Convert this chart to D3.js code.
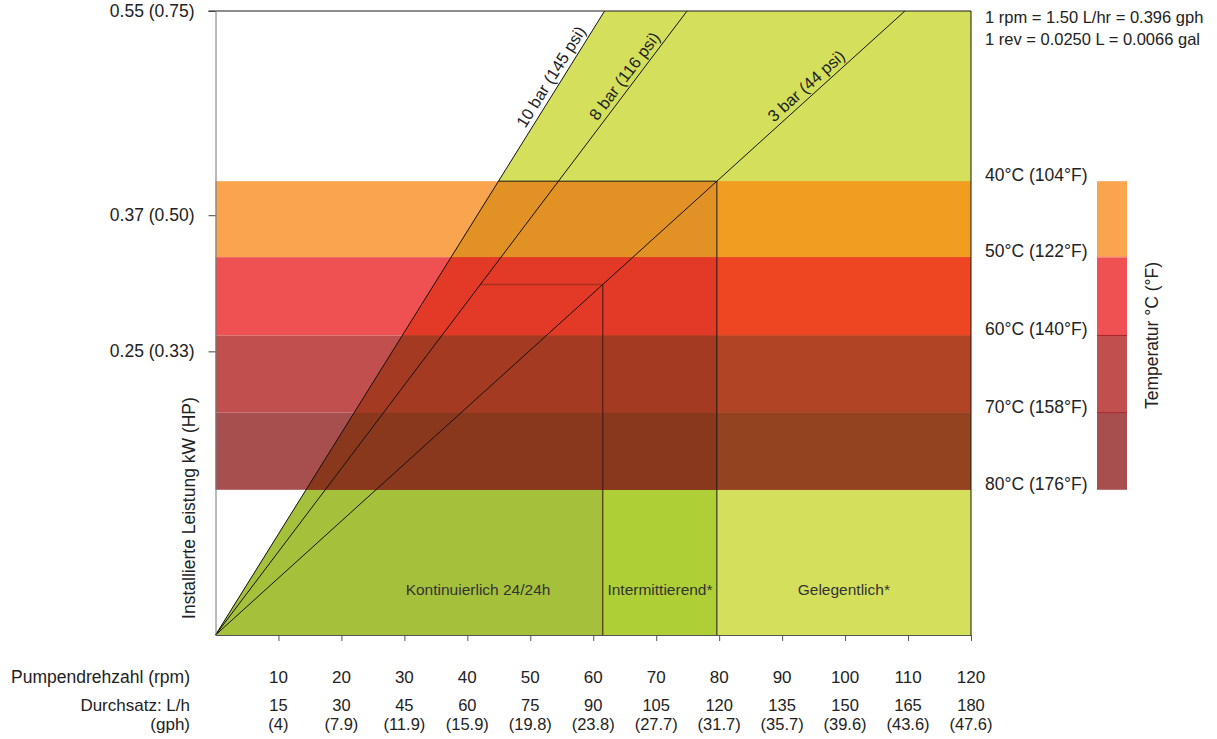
<!DOCTYPE html>
<html><head><meta charset="utf-8">
<script src="https://cdn.jsdelivr.net/npm/d3@7"></script>
<style>
body{margin:0;background:#fff}
svg{display:block}
text{font-family:"Liberation Sans",Arial,Helvetica,sans-serif;fill:#222}
</style>
</head><body>
<svg id="chart" width="1217" height="739"></svg>
<script>
// ---------- DATA ----------
const rpmTicks = [10,20,30,40,50,60,70,80,90,100,110,120];
const flowLph = ["15","30","45","60","75","90","105","120","135","150","165","180"];
const flowGph = ["(4)","(7.9)","(11.9)","(15.9)","(19.8)","(23.8)","(27.7)","(31.7)","(35.7)","(39.6)","(43.6)","(47.6)"];
const powerTicks = [0.25,0.37,0.55];
const powerTickLabels = ["0.25 (0.33)","0.37 (0.50)","0.55 (0.75)"];
const tempLabels = ["40°C (104°F)","50°C (122°F)","60°C (140°F)","70°C (158°F)","80°C (176°F)"];
const tempBoundaryPower = [0.400,0.333,0.264,0.196,0.128];   // kW level of each temperature boundary
const pressureLabels = ["10 bar (145 psi)","8 bar (116 psi)","3 bar (44 psi)"];
const pressureRpmAtMaxPower = [61.8,74.9,109.5];             // rpm where each pressure line reaches 0.55 kW
const pressureLabelPower = [0.487,0.487,0.477];
const dutyLabels = ["Kontinuierlich 24/24h","Intermittierend*","Gelegentlich*"];
const dutyLabelRpm = [41.7,70.6,99.8];
const dutyLimitPower = [0.309,0.400];                         // continuous, intermittent power limits
const notes = ["1 rpm = 1.50 L/hr = 0.396 gph","1 rev = 0.0250 L = 0.0066 gal"];

// ---------- STYLE ----------
const bandPlain = ['#f9a44f','#ef5052','#c14f4e','#a64f4e'];
const bandLight = ['#f19e20','#ee4623','#b04425','#944320'];
const bandDark  = ['#e29224','#e23a26','#a43a22','#8a381d'];
const greenLight = '#d4e05c', greenInter = '#aecf35', greenCont = '#a5c13b';

const svg = d3.select('#chart');
const x = d3.scaleLinear().domain([0,120]).range([215.5,971]);
const y = d3.scaleLinear().domain([0,0.55]).range([635,11]);
const maxP = 0.55;
const rpmOn = (i,p) => pressureRpmAtMaxPower[i]*p/maxP;   // rpm on pressure line i at power p
const line = d3.line().x(d=>x(d[0])).y(d=>y(d[1]));

const contRight = rpmOn(2, dutyLimitPower[0]);
const interRight = rpmOn(2, dutyLimitPower[1]);

const lightPoly = [[0,0],[pressureRpmAtMaxPower[0],maxP],[120,maxP],[120,0]];
const interPoly = [[0,0],[rpmOn(0,dutyLimitPower[1]),dutyLimitPower[1]],[interRight,dutyLimitPower[1]],[interRight,0]];
const contPoly  = [[0,0],[rpmOn(0,dutyLimitPower[0]),dutyLimitPower[0]],[contRight,dutyLimitPower[0]],[contRight,0]];

const defs = svg.append('defs');
defs.append('clipPath').attr('id','clipLight').append('path').attr('d', line(lightPoly)+'Z');
defs.append('clipPath').attr('id','clipDark').append('path').attr('d', line(interPoly)+'Z');

// green base regions
svg.append('path').attr('d', line(lightPoly)+'Z').attr('fill', greenLight);
svg.append('path').attr('d', line(interPoly)+'Z').attr('fill', greenInter);
svg.append('path').attr('d', line(contPoly)+'Z').attr('fill', greenCont);

// temperature bands
const bands = d3.range(4).map(i => ({top: tempBoundaryPower[i], bot: tempBoundaryPower[i+1], i}));
function drawBands(colors, clip){
  const g = svg.append('g');
  if (clip) g.attr('clip-path', `url(#${clip})`);
  g.selectAll('rect').data(bands).join('rect')
    .attr('x', x(0)).attr('width', x(120)-x(0))
    .attr('y', d=>y(d.top)).attr('height', d=>y(d.bot)-y(d.top))
    .attr('fill', d=>colors[d.i]);
}
drawBands(bandPlain, null);
drawBands(bandLight, 'clipLight');
drawBands(bandDark, 'clipDark');

// duty boxes
svg.append('path')
  .attr('d', line([[rpmOn(1,dutyLimitPower[0]),dutyLimitPower[0]],[contRight,dutyLimitPower[0]]]))
  .attr('stroke','#a8321f').attr('stroke-width',1.5).attr('fill','none');
svg.append('path')
  .attr('d', line([[contRight,dutyLimitPower[0]],[contRight,0]]))
  .attr('stroke','#3a1a10').attr('stroke-width',1).attr('fill','none');
svg.append('path')
  .attr('d', line([[rpmOn(0,dutyLimitPower[1]),dutyLimitPower[1]],[interRight,dutyLimitPower[1]],[interRight,0]]))
  .attr('stroke','#1a1a1a').attr('stroke-width',1).attr('fill','none');

// pressure lines
svg.selectAll('.pline').data(pressureRpmAtMaxPower).join('path').attr('class','pline')
  .attr('d', d=>line([[0,0],[d,maxP]]))
  .attr('stroke','#111').attr('stroke-width',1).attr('fill','none');

// pressure labels
pressureLabels.forEach((lab,i)=>{
  const p = pressureLabelPower[i];
  const px = x(rpmOn(i,p)), py = y(p);
  const ang = Math.atan2(y(0)-y(maxP), x(pressureRpmAtMaxPower[i])-x(0))*180/Math.PI;
  svg.append('text').attr('transform',`translate(${px},${py}) rotate(${-ang})`)
    .attr('text-anchor','middle').attr('dy',-5).attr('font-size',16.5).text(lab);
});

// duty labels
svg.selectAll('.duty').data(dutyLabels).join('text').attr('class','duty')
  .attr('x',(d,i)=>x(dutyLabelRpm[i])).attr('y', y(0.04)+5)
  .attr('text-anchor','middle').attr('font-size',15.5).style('fill','#333').text(d=>d);

// borders
svg.append('path').attr('d', `M${x(0)-7},${y(maxP)}H${x(120)}V${y(0)}`)
  .attr('stroke','#1a1a1a').attr('stroke-width',1).attr('fill','none');

// left axis
const yAxis = svg.append('g').attr('transform',`translate(${x(0)},0)`)
  .call(d3.axisLeft(y).tickValues(powerTicks).tickSize(7).tickSizeOuter(0).tickPadding(14)
    .tickFormat((d,i)=>powerTickLabels[i]));
yAxis.select('.domain').attr('stroke','#777');
yAxis.selectAll('.tick line').attr('stroke','#444');
yAxis.selectAll('text').attr('font-size',17.5).attr('font-family','"Liberation Sans",Arial,sans-serif').style('fill','#222');

// bottom axis
const xAxis = svg.append('g').attr('transform',`translate(0,${y(0)})`)
  .call(d3.axisBottom(x).tickValues(rpmTicks).tickSize(6).tickSizeOuter(0).tickFormat(''));
xAxis.select('.domain').attr('stroke','#555');
xAxis.selectAll('.tick line').attr('stroke','#555');

// bottom labels
const bl = svg.append('g').attr('text-anchor','middle');
bl.selectAll('.r').data(rpmTicks).join('text').attr('class','r').attr('font-size',17).attr('x',d=>x(d)).attr('y',683).text(d=>d);
bl.selectAll('.l').data(flowLph).join('text').attr('class','l').attr('font-size',16.5).attr('x',(d,i)=>x(rpmTicks[i])).attr('y',711).text(d=>d);
bl.selectAll('.g').data(flowGph).join('text').attr('class','g').attr('font-size',16.5).attr('x',(d,i)=>x(rpmTicks[i])).attr('y',730).text(d=>d);
const rowTitles = [["Pumpendrehzahl (rpm)",683,17.5],["Durchsatz: L/h",711,17],["(gph)",730,17]];
svg.append('g').attr('text-anchor','end')
  .selectAll('text').data(rowTitles).join('text').attr('x',190).attr('y',d=>d[1]).attr('font-size',d=>d[2]).text(d=>d[0]);

// y title
svg.append('text').attr('transform','translate(195,508) rotate(-90)').attr('text-anchor','middle')
  .attr('font-size',17.5).text('Installierte Leistung kW (HP)');

// notes
svg.append('g').selectAll('text').data(notes).join('text')
  .attr('x',985).attr('y',(d,i)=>23+i*22).attr('font-size',16.5)
  .attr('font-family','"Open Sans",sans-serif').text(d=>d);

// temperature labels
svg.append('g').selectAll('text').data(tempLabels).join('text')
  .attr('x',985).attr('y',(d,i)=>y(tempBoundaryPower[i])).attr('font-size',17.5).text(d=>d);

// legend
const lg = svg.append('g');
lg.selectAll('rect').data(bands).join('rect')
  .attr('x',1097).attr('width',30).attr('y',d=>y(d.top)).attr('height',d=>y(d.bot)-y(d.top))
  .attr('fill',d=>bandPlain[d.i]);
lg.selectAll('line').data([1,2,3]).join('line')
  .attr('x1',1097).attr('x2',1127).attr('y1',d=>y(tempBoundaryPower[d])).attr('y2',d=>y(tempBoundaryPower[d]))
  .attr('stroke',d=>d===1?'#f48a8a':'#a8252b').attr('stroke-width',1);
svg.append('text').attr('transform',`translate(1158,${(y(tempBoundaryPower[0])+y(tempBoundaryPower[4]))/2}) rotate(-90)`)
  .attr('text-anchor','middle').attr('font-size',17.5).text('Temperatur °C (°F)');
</script>
</body></html>
